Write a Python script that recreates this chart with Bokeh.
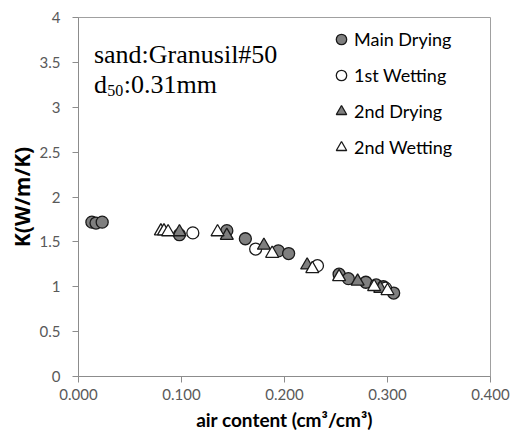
from bokeh.plotting import figure
from bokeh.models import FixedTicker, Label, Range1d
from bokeh.embed import file_html
from bokeh.resources import INLINE

# ---- data ----
main_drying_x = [0.013, 0.017, 0.023, 0.098, 0.144, 0.162, 0.194, 0.204, 0.253, 0.262, 0.279, 0.289, 0.296, 0.306]
main_drying_y = [1.72, 1.71, 1.72, 1.58, 1.625, 1.535, 1.40, 1.37, 1.14, 1.09, 1.05, 1.02, 1.00, 0.93]

first_wetting_x = [0.111, 0.172, 0.232, 0.298]
first_wetting_y = [1.60, 1.42, 1.235, 0.985]

second_drying_x = [0.098, 0.144, 0.180, 0.222, 0.271, 0.293]
second_drying_y = [1.61, 1.57, 1.46, 1.24, 1.06, 0.98]

second_wetting_x = [0.080, 0.083, 0.087, 0.135, 0.188, 0.227, 0.253, 0.287, 0.300]
second_wetting_y = [1.62, 1.62, 1.61, 1.61, 1.37, 1.20, 1.11, 1.00, 0.955]

x_ticks = [0.0, 0.1, 0.2, 0.3, 0.4]
x_tick_labels = ["0.000", "0.100", "0.200", "0.300", "0.400"]
y_ticks = [0, 0.5, 1, 1.5, 2, 2.5, 3, 3.5, 4]
y_tick_labels = ["0", "0.5", "1", "1.5", "2", "2.5", "3", "3.5", "4"]

series_names = ["Main Drying", "1st Wetting", "2nd Drying", "2nd Wetting"]

FONT = "Lato"
GRAY_FILL = "#7f7f7f"
EDGE = "#1a1a1a"
AXIS_GRAY = "#8c8c8c"

p = figure(width=510, height=434, output_backend="svg", toolbar_location=None,
           x_range=Range1d(0, 0.4), y_range=Range1d(0, 4),
           min_border_left=78, min_border_right=20, min_border_top=17, min_border_bottom=58)

p.scatter(main_drying_x, main_drying_y, marker="circle", size=12,
          fill_color=GRAY_FILL, line_color=EDGE, line_width=1.3, legend_label=series_names[0])
p.scatter(first_wetting_x, first_wetting_y, marker="circle", size=12,
          fill_color="white", line_color=EDGE, line_width=1.3, legend_label=series_names[1])
p.scatter(second_drying_x, second_drying_y, marker="triangle", size=13,
          fill_color=GRAY_FILL, line_color=EDGE, line_width=1.3, legend_label=series_names[2])
p.scatter(second_wetting_x, second_wetting_y, marker="triangle", size=13,
          fill_color="white", line_color=EDGE, line_width=1.3, legend_label=series_names[3])

# axes
p.xgrid.visible = False
p.ygrid.visible = False
p.outline_line_color = "#a0a0a0"
p.outline_line_width = 1

p.xaxis.ticker = FixedTicker(ticks=x_ticks)
p.xaxis.major_label_overrides = {t: l for t, l in zip(x_ticks, x_tick_labels)}
p.yaxis.ticker = FixedTicker(ticks=y_ticks)
p.yaxis.major_label_overrides = {t: l for t, l in zip(y_ticks, y_tick_labels)}

for ax in (p.xaxis[0], p.yaxis[0]):
    ax.axis_line_color = AXIS_GRAY
    ax.major_tick_line_color = AXIS_GRAY
    ax.minor_tick_line_color = None
    ax.major_tick_in = 0
    ax.major_tick_out = 6
    ax.major_label_text_font = FONT
    ax.major_label_text_font_size = "15px"
    ax.major_label_text_color = "#595959"
    ax.axis_label_text_font_style = "bold"
    ax.axis_label_text_color = "#000000"

p.xaxis.axis_label = "air content (cm³/cm³)"
p.xaxis.axis_label_text_font = FONT
p.xaxis.axis_label_text_font_size = "19px"
p.xaxis.major_label_standoff = 6
p.xaxis.axis_label_standoff = 5
p.yaxis.axis_label = "K(W/m/K)"
p.yaxis.axis_label_text_font = "Open Sans"
p.yaxis.axis_label_text_font_size = "21px"
p.yaxis.major_label_standoff = 12
p.yaxis.axis_label_standoff = 1

# legend (location = bottom-left corner, screen px from frame's bottom-left)
lg = p.legend[0]
lg.location = (250, 214)
lg.background_fill_alpha = 0
lg.border_line_color = None
lg.padding = 0
lg.margin = 0
lg.glyph_width = 26
lg.glyph_height = 30
lg.label_height = 30
lg.spacing = 6
lg.label_standoff = 0
lg.label_text_font = FONT
lg.label_text_font_size = "18px"
lg.label_text_color = "#000000"

# annotation text
SERIF = "Liberation Serif"
p.add_layout(Label(x=0.015, y=3.583, text="sand:Granusil#50", text_font=SERIF,
                   text_font_size="26px", text_baseline="alphabetic", text_color="#000000"))
p.add_layout(Label(x=0.015, y=3.248, text="d", text_font=SERIF,
                   text_font_size="26px", text_baseline="alphabetic", text_color="#000000"))
p.add_layout(Label(x=0.0279, y=3.192, text="50", text_font=SERIF,
                   text_font_size="16px", text_baseline="alphabetic", text_color="#000000"))
p.add_layout(Label(x=0.044, y=3.248, text=":0.31mm", text_font=SERIF,
                   text_font_size="26px", text_baseline="alphabetic", text_color="#000000"))

open("out.html", "w").write(file_html(p, INLINE))
